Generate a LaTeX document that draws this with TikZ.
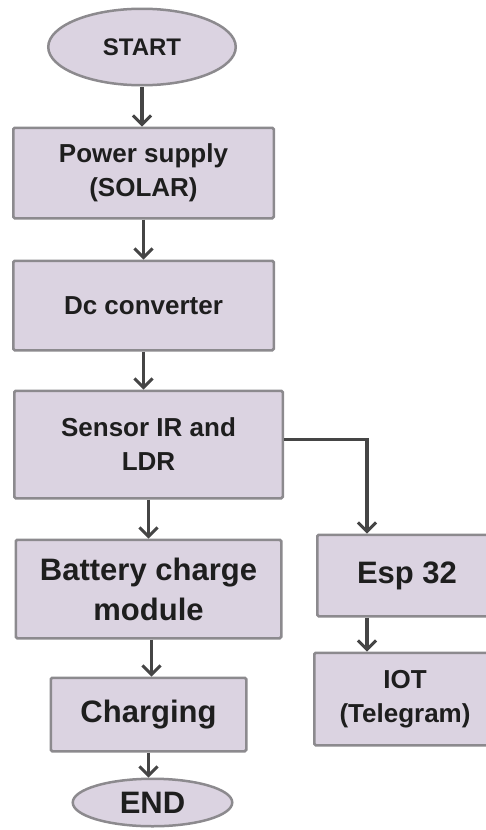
\documentclass[tikz,border=0pt]{standalone}
\usepackage{fontspec}
\setmainfont{Liberation Sans}
\usepackage{xcolor}
\definecolor{boxfill}{HTML}{DBD3E1}
\definecolor{boxline}{HTML}{8C8A8E}
\definecolor{arrgray}{HTML}{454545}
\definecolor{txtdark}{HTML}{1E1E1E}
\usepackage{tikz}
\usetikzlibrary{shapes.geometric, arrows.meta, positioning}

\newcommand{\midtxt}{\fontsize{26}{34}\selectfont\bfseries}
\newcommand{\bigtxt}{\fontsize{31}{40}\selectfont\bfseries}

\begin{document}
\begin{tikzpicture}[
  proc/.style = {draw=boxline, fill=boxfill, text=txtdark, rectangle,
                 rounded corners=1.5pt, line width=2.5pt, align=center,
                 inner sep=4pt},
  term/.style = {draw=boxline, fill=boxfill, text=txtdark, ellipse,
                 line width=2.5pt, inner sep=0pt},
  arr/.style  = {-{Straight Barb[length=9pt, width=18pt, line width=3pt]},
                 line width=3.5pt, color=arrgray}
]
\useasboundingbox (0,0) rectangle (486pt,-830pt);

% ── MAIN COLUMN ─────────────────────────────────────────
\node[term, minimum width=187.5pt, minimum height=76.5pt, font=\fontsize{24}{30}\selectfont\bfseries]
      at (142pt,-47pt) (start) {START};
\node[proc, below=40pt of start, xshift=1.5pt, minimum width=260.5pt, minimum height=90.5pt,
      font=\midtxt] (power) {Power supply\\(SOLAR)};
\node[proc, below=40pt of power, minimum width=260.5pt, minimum height=89.5pt,
      font=\midtxt] (dc) {Dc converter};
\node[proc, below=38pt of dc, xshift=5pt, minimum width=268.5pt, minimum height=107.5pt,
      font=\midtxt] (sensor) {Sensor IR and\\LDR};
\node[proc, below=39pt of sensor, minimum width=265.5pt, minimum height=98.5pt,
      font=\bigtxt] (battery) {Battery charge\\module};
\node[proc, below=37pt of battery, minimum width=195.5pt, minimum height=73.5pt,
      font=\bigtxt] (charging) {Charging};
\node[term, below=25pt of charging, xshift=4pt, minimum width=159.5pt, minimum height=47.5pt,
      font=\bigtxt] (end) {END};

% ── SIDE BRANCH ─────────────────────────────────────────
\node[proc, below right=34pt and 32pt of sensor, minimum width=179.5pt, minimum height=81.5pt,
      font=\bigtxt] (esp) {Esp 32};
\node[proc, below=34pt of esp, xshift=-2pt, minimum width=181.5pt, minimum height=92.5pt,
      font=\midtxt] (iot) {IOT\\(Telegram)};

% ── ARROWS ──────────────────────────────────────────────
\draw[arr] (start.south) -- (start.south |- power.north);
\draw[arr] (power.south) -- (power.south |- dc.north);
\draw[arr] (dc.south) -- (dc.south |- sensor.north);
\draw[arr] (sensor.south) -- (sensor.south |- battery.north);
\draw[arr] ([xshift=3pt]battery.south) -- ([xshift=3pt]battery.south |- charging.north);
\draw[arr] (charging.south) -- (charging.south |- end.north);
\draw[arr] ([yshift=5pt]sensor.east) -| ([xshift=-40pt]esp.north);
\draw[arr] ([xshift=-40pt]esp.south) -- ([xshift=-40pt]esp.south |- iot.north);

\end{tikzpicture}
\end{document}
